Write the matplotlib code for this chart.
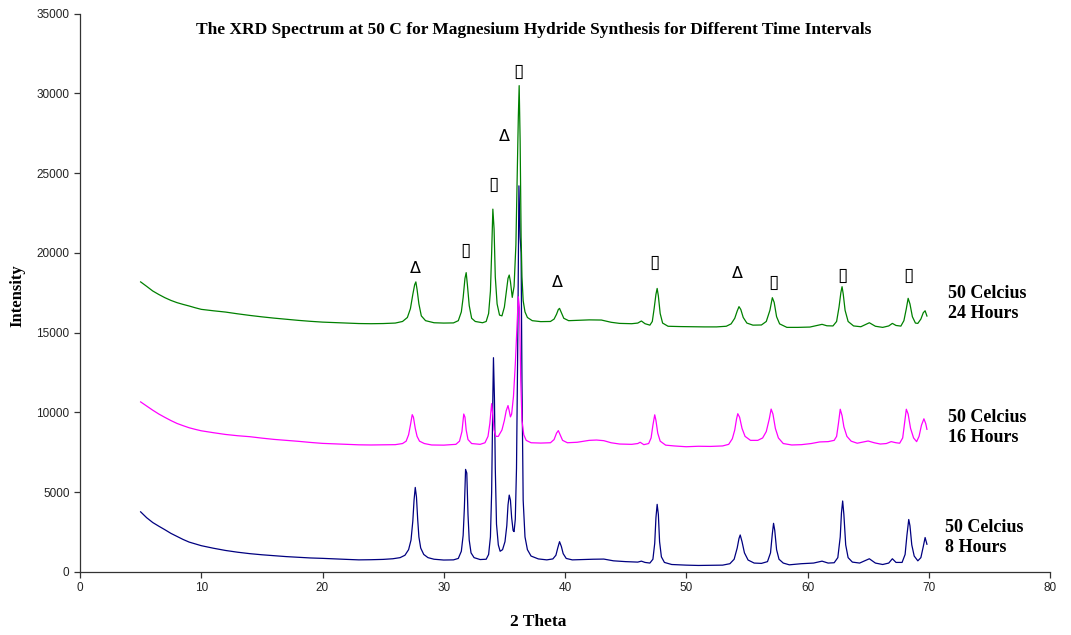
import matplotlib
matplotlib.use('Agg')
import matplotlib.pyplot as plt

# XRD traces (2 theta, intensity)
blue_theta = [5.0, 5.5, 6.0, 6.5, 7.0, 7.5, 8.0, 8.5, 9.0, 9.5, 10.0, 11, 12, 13, 14, 15, 16, 17, 18, 19, 20, 21, 22, 23, 24, 25, 25.8, 26.4, 26.8, 27.1, 27.3, 27.45, 27.55, 27.65, 27.75, 27.85, 27.95, 28.1, 28.35, 28.7, 29.2, 30, 30.8, 31.2, 31.45, 31.6, 31.7, 31.8, 31.9, 32.0, 32.1, 32.25, 32.5, 33.0, 33.5, 33.7, 33.85, 33.95, 34.05, 34.1, 34.18, 34.25, 34.35, 34.5, 34.65, 34.85, 35.05, 35.2, 35.3, 35.4, 35.5, 35.6, 35.72, 35.8, 35.9, 36.0, 36.1, 36.2, 36.3, 36.38, 36.45, 36.55, 36.7, 36.9, 37.2, 37.8, 38.5, 39.0, 39.25, 39.4, 39.55, 39.7, 39.85, 40.1, 40.6, 41.5, 42.3, 43.2, 44.0, 45.0, 46.0, 46.3, 46.6, 47.0, 47.25, 47.4, 47.5, 47.6, 47.7, 47.8, 47.95, 48.2, 48.8, 50, 51, 52, 53, 53.6, 53.95, 54.2, 54.35, 54.45, 54.6, 54.8, 55.1, 55.6, 56.2, 56.7, 56.95, 57.1, 57.2, 57.3, 57.45, 57.65, 58.0, 58.5, 59.5, 60.5, 61.2, 61.7, 62.2, 62.5, 62.7, 62.8, 62.9, 63.0, 63.15, 63.35, 63.7, 64.3, 65.1, 65.6, 66.2, 66.7, 67.0, 67.3, 67.8, 68.05, 68.2, 68.35, 68.45, 68.6, 68.8, 69.1, 69.35, 69.55, 69.7, 69.85]
blue_int = [3770, 3400, 3100, 2870, 2650, 2420, 2230, 2040, 1875, 1760, 1650, 1490, 1350, 1240, 1150, 1080, 1020, 965, 920, 880, 855, 820, 790, 760, 770, 790, 830, 900, 1050, 1400, 2000, 3200, 4500, 5300, 4700, 3300, 2200, 1500, 1100, 900, 800, 750, 760, 850, 1300, 2300, 4000, 6430, 6200, 3600, 2000, 1200, 900, 780, 800, 1100, 2200, 5000, 11000, 13430, 10900, 6500, 3000, 1700, 1300, 1400, 1900, 2900, 4200, 4820, 4500, 3400, 2600, 2530, 3300, 6500, 14000, 24200, 21000, 20000, 12000, 4500, 2200, 1400, 1000, 820, 760, 820, 1050, 1500, 1900, 1600, 1150, 850, 760, 780, 800, 810, 700, 650, 620, 680, 600, 560, 800, 1800, 3400, 4240, 3600, 1900, 950, 600, 470, 430, 410, 420, 430, 520, 800, 1500, 2100, 2320, 1900, 1200, 750, 560, 540, 650, 1200, 2400, 3050, 2600, 1400, 800, 560, 450, 520, 560, 680, 560, 580, 900, 2200, 3700, 4450, 3600, 1700, 900, 620, 560, 830, 560, 470, 560, 830, 600, 600, 1100, 2300, 3290, 2900, 1700, 1000, 700, 900, 1600, 2160, 1740]

magenta_theta = [5.0, 5.5, 6.0, 6.5, 7.0, 7.5, 8.0, 8.5, 9.0, 9.5, 10, 11, 12, 13, 14, 15, 16, 17, 18, 19, 20, 21, 22, 23, 24, 25, 26, 26.6, 26.9, 27.1, 27.25, 27.4, 27.5, 27.65, 27.8, 28.0, 28.4, 29, 30, 31, 31.3, 31.5, 31.65, 31.75, 31.85, 32.0, 32.3, 33, 33.4, 33.65, 33.8, 33.95, 34.05, 34.15, 34.3, 34.5, 34.8, 35.0, 35.15, 35.3, 35.4, 35.5, 35.6, 35.75, 35.9, 36.05, 36.15, 36.25, 36.35, 36.45, 36.6, 36.8, 37.2, 38, 38.8, 39.1, 39.3, 39.45, 39.6, 39.8, 40.2, 41, 42, 42.6, 43.2, 43.8, 44.5, 45.5, 46.0, 46.2, 46.5, 46.9, 47.1, 47.25, 47.4, 47.5, 47.65, 47.85, 48.3, 49, 50, 51, 52, 53, 53.5, 53.8, 54.0, 54.15, 54.25, 54.4, 54.6, 54.85, 55.3, 55.9, 56.3, 56.6, 56.85, 57.0, 57.15, 57.35, 57.6, 58, 58.7, 59.5, 60.3, 61, 61.7, 62.2, 62.4, 62.55, 62.7, 62.85, 63.0, 63.25, 63.6, 64.1, 64.6, 65.0, 65.5, 66.0, 66.5, 66.9, 67.3, 67.6, 67.85, 68.0, 68.15, 68.3, 68.5, 68.75, 69.0, 69.2, 69.4, 69.6, 69.75, 69.85]
magenta_int = [10660, 10400, 10140, 9900, 9690, 9490, 9310, 9170, 9040, 8940, 8850, 8730, 8620, 8540, 8480, 8390, 8310, 8250, 8190, 8120, 8060, 8030, 8000, 7970, 7960, 7970, 7980, 8050, 8200, 8600, 9200, 9860, 9700, 9000, 8500, 8200, 8050, 7960, 7950, 8000, 8200, 8800, 9900, 9700, 8900, 8300, 8050, 8000, 8100, 8500, 9300, 10550, 9800, 8900, 8500, 8500, 8900, 9500, 10100, 10430, 10100, 9720, 9900, 11000, 13000, 15500, 17250, 16500, 12000, 9500, 8600, 8250, 8100, 8080, 8100, 8300, 8700, 8860, 8600, 8250, 8100, 8130, 8250, 8270, 8230, 8100, 8020, 8000, 8050, 8130, 7980, 8050, 8400, 9200, 9850, 9500, 8700, 8200, 7950, 7900, 7850, 7880, 7870, 7900, 8000, 8350, 8900, 9600, 9920, 9700, 9000, 8500, 8250, 8250, 8400, 8800, 9600, 10210, 9900, 9000, 8400, 8050, 7960, 7980, 8050, 8150, 8170, 8250, 8500, 9300, 10200, 9800, 9100, 8500, 8200, 8070, 8150, 8210, 8100, 8020, 8050, 8170, 8100, 8070, 8400, 9300, 10200, 9900, 9000, 8400, 8170, 8500, 9200, 9600, 9300, 8940]

green_theta = [5.0, 5.5, 6.0, 6.5, 7.0, 7.5, 8.0, 8.5, 9.0, 9.5, 10, 11, 12, 13, 14, 15, 16, 17, 18, 19, 20, 21, 22, 23, 24, 25, 26, 26.6, 27.0, 27.25, 27.45, 27.6, 27.7, 27.8, 27.95, 28.15, 28.5, 29.2, 30, 30.8, 31.2, 31.45, 31.6, 31.75, 31.85, 31.95, 32.1, 32.3, 32.6, 33.2, 33.5, 33.7, 33.85, 33.95, 34.05, 34.15, 34.25, 34.4, 34.6, 34.8, 35.0, 35.15, 35.3, 35.4, 35.5, 35.65, 35.8, 35.95, 36.05, 36.15, 36.22, 36.3, 36.38, 36.45, 36.55, 36.7, 36.9, 37.3, 38.0, 38.8, 39.1, 39.3, 39.45, 39.55, 39.7, 39.9, 40.3, 41.0, 42.0, 43.0, 43.8, 44.5, 45.5, 46.0, 46.3, 46.6, 47.0, 47.2, 47.35, 47.5, 47.6, 47.7, 47.85, 48.05, 48.5, 49.5, 50.5, 51.5, 52.5, 53.3, 53.7, 54.0, 54.2, 54.35, 54.5, 54.7, 55.0, 55.5, 56.2, 56.6, 56.9, 57.1, 57.25, 57.45, 57.7, 58.3, 59.2, 60.2, 60.8, 61.2, 61.6, 62.1, 62.4, 62.6, 62.75, 62.85, 62.95, 63.1, 63.35, 63.8, 64.4, 65.1, 65.6, 66.2, 66.7, 67.0, 67.3, 67.7, 67.95, 68.15, 68.3, 68.45, 68.65, 68.9, 69.1, 69.35, 69.55, 69.7, 69.85]
green_int = [18180, 17900, 17610, 17390, 17190, 17020, 16880, 16770, 16670, 16560, 16460, 16370, 16290, 16180, 16080, 15990, 15910, 15840, 15770, 15710, 15660, 15630, 15600, 15570, 15560, 15570, 15600, 15700, 15950, 16500, 17400, 18000, 18180, 17700, 16800, 16050, 15750, 15620, 15600, 15610, 15750, 16300, 17200, 18400, 18760, 18000, 16700, 15900, 15700, 15620, 15700, 16200, 17600, 20000, 22740, 21500, 18500, 16800, 16100, 16050, 16600, 17500, 18400, 18610, 18200, 17210, 17900, 20500, 24500, 28500, 30480, 27000, 21000, 18500, 17000, 16300, 15950, 15750, 15690, 15700, 15850, 16150, 16450, 16520, 16250, 15900, 15750, 15770, 15800, 15790, 15650, 15580, 15560, 15600, 15730, 15560, 15470, 15700, 16500, 17400, 17770, 17300, 16200, 15600, 15400, 15380, 15370, 15360, 15360, 15400, 15550, 15900, 16350, 16630, 16450, 15950, 15600, 15470, 15480, 15700, 16400, 17190, 16900, 16000, 15550, 15330, 15330, 15350, 15450, 15520, 15430, 15420, 15700, 16600, 17500, 17880, 17400, 16400, 15700, 15420, 15370, 15620, 15400, 15330, 15420, 15580, 15450, 15410, 15750, 16500, 17150, 16800, 16000, 15600, 15580, 15850, 16250, 16370, 16040]

series_labels = ['50 Celcius\n8 Hours', '50 Celcius\n16 Hours', '50 Celcius\n24 Hours']
label_theta = [71.3, 71.6, 71.6]
label_int = [2160, 9050, 16820]

# phase marks above the 24 h trace
mark_theta = [27.7, 31.8, 34.1, 35.0, 36.2, 39.4, 47.4, 54.2, 57.2, 62.9, 68.3]
mark_int = [19030, 20180, 24290, 27280, 31350, 18150, 19380, 18720, 18130, 18560, 18560]
mark_sym = ['\u0394', '\u25af', '\u25af', '\u0394', '\u25af', '\u0394', '\u25af', '\u0394', '\u25af', '\u25af', '\u25af']

serif = 'Liberation Serif'
sans = 'Liberation Sans'

fig = plt.figure(figsize=(10.71, 6.35), dpi=100)
ax = fig.add_axes([80 / 1071, 63 / 635, 970 / 1071, 558.5 / 635])

ax.plot(blue_theta, blue_int, color='#000080', lw=0.9)
ax.plot(magenta_theta, magenta_int, color='#ff00ff', lw=0.9)
ax.plot(green_theta, green_int, color='#008000', lw=0.9)

ax.set_xlim(0, 80)
ax.set_ylim(0, 35000)
ax.set_xticks(range(0, 81, 10))
ax.set_yticks(range(0, 35001, 5000))
for s in ['top', 'right']:
    ax.spines[s].set_visible(False)
for s in ['left', 'bottom']:
    ax.spines[s].set_color('#333333')
    ax.spines[s].set_linewidth(0.9)
ax.tick_params(direction='out', length=4, width=0.9, color='#333333',
               labelsize=8.5, labelcolor='#222222')
for lab in ax.get_xticklabels() + ax.get_yticklabels():
    lab.set_fontfamily(sans)

for t, y, s in zip(label_theta, label_int, series_labels):
    ax.text(t, y, s, ha='left', va='center', fontsize=13, fontweight='bold',
            family=serif, linespacing=1.2)

for t, y, s in zip(mark_theta, mark_int, mark_sym):
    fs = 13.5 if s == '\u25af' else 11.5
    ax.text(t, y, s, ha='center', va='center', fontsize=fs, family='DejaVu Sans')

fig.text(533.5 / 1071, 1 - 30 / 635,
         'The XRD Spectrum at 50 C for Magnesium Hydride Synthesis for Different Time Intervals',
         ha='center', va='center', fontsize=12.5, fontweight='bold', family=serif)
fig.text(17 / 1071, 1 - 296 / 635, 'Intensity', rotation=90, ha='center', va='center',
         fontsize=12, fontweight='bold', family=serif)
fig.text(538 / 1071, 1 - 622 / 635, '2 Theta', ha='center', va='center',
         fontsize=12.5, fontweight='bold', family=serif)

fig.savefig('out.png', dpi=100, facecolor='white')
